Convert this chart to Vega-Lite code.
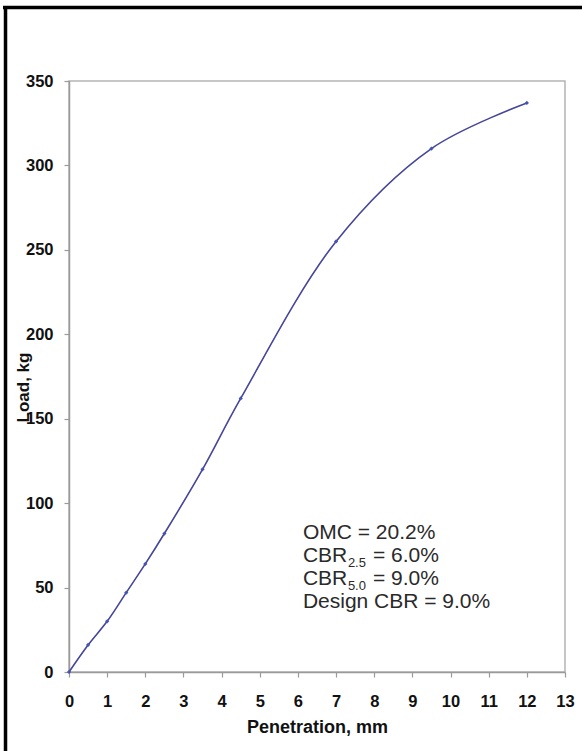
{
  "$schema": "https://vega.github.io/schema/vega-lite/v6.json",
  "width": 496,
  "height": 591,
  "autosize": {"type": "none"},
  "padding": {"left": 69, "top": 81, "right": 17, "bottom": 79},
  "background": "white",
  "config": {
    "font": "Liberation Sans",
    "view": {"stroke": "#b4b4b4", "strokeWidth": 1.5},
    "axis": {
      "grid": false,
      "domainColor": "#9a9a9a",
      "domainWidth": 1.5,
      "tickColor": "#9a9a9a",
      "tickWidth": 1.2,
      "tickSize": 5,
      "labelFont": "Liberation Sans",
      "labelFontWeight": "bold",
      "labelFontSize": 16.5,
      "labelColor": "#111111",
      "titleFont": "Liberation Sans",
      "titleFontWeight": "bold",
      "titleColor": "#111111"
    }
  },
  "datasets": {
    "load": [
      {"penetration": 0, "load": 0},
      {"penetration": 0.5, "load": 16},
      {"penetration": 1, "load": 30},
      {"penetration": 1.5, "load": 47},
      {"penetration": 2, "load": 64},
      {"penetration": 2.5, "load": 82},
      {"penetration": 3.5, "load": 120},
      {"penetration": 4.5, "load": 162},
      {"penetration": 7, "load": 255},
      {"penetration": 9.5, "load": 310},
      {"penetration": 12, "load": 337}
    ],
    "notes": [
      {"part": "main", "text": "OMC = 20.2%", "penetration": 6.13, "load": 82.3},
      {"part": "main", "text": "CBR", "penetration": 6.13, "load": 68.7},
      {"part": "sub", "text": "2.5", "penetration": 6.13, "load": 68.7},
      {"part": "rest", "text": "= 6.0%", "penetration": 6.13, "load": 68.7},
      {"part": "main", "text": "CBR", "penetration": 6.13, "load": 55.1},
      {"part": "sub", "text": "5.0", "penetration": 6.13, "load": 55.1},
      {"part": "rest", "text": "= 9.0%", "penetration": 6.13, "load": 55.1},
      {"part": "main", "text": "Design CBR = 9.0%", "penetration": 6.13, "load": 41.5}
    ],
    "frame": [
      {"side": "left", "penetration": -1.664, "pen2": -1.664, "load": 393.5, "load2": -47},
      {"side": "top", "penetration": -1.73, "pen2": 13.45, "load": 393.5, "load2": 393.5}
    ]
  },
  "encoding": {
    "x": {
      "field": "penetration", "type": "quantitative",
      "scale": {"domain": [0, 13], "nice": false, "zero": false},
      "axis": {
        "values": [0, 1, 2, 3, 4, 5, 6, 7, 8, 9, 10, 11, 12, 13],
        "labelOverlap": "greedy",
        "labelSeparation": -30,
        "labelBound": false,
        "title": "Penetration, mm",
        "titleFontSize": 18,
        "titleBaseline": "alphabetic",
        "titleY": 60,
        "titleX": 248,
        "labelPadding": 16,
        "labelFlush": false
      }
    },
    "y": {
      "field": "load", "type": "quantitative",
      "scale": {"domain": [0, 350], "nice": false},
      "axis": {
        "values": [0, 50, 100, 150, 200, 250, 300, 350],
        "labelOverlap": "greedy",
        "labelSeparation": -30,
        "title": "Load, kg",
        "titleFontSize": 17,
        "titleAngle": -90,
        "titleBaseline": "alphabetic",
        "titleAlign": "center",
        "titleX": -41,
        "titleY": 306,
        "labelPadding": 11,
        "labelFlush": false
      }
    }
  },
  "layer": [
    {
      "data": {"name": "load"},
      "mark": {"type": "line", "interpolate": "catmull-rom", "color": "#45459a", "strokeWidth": 1.6}
    },
    {
      "data": {"name": "load"},
      "mark": {"type": "point", "filled": true, "shape": "diamond", "size": 18, "color": "#4454b8", "opacity": 1}
    },
    {
      "data": {"name": "notes"},
      "transform": [{"filter": "datum.part === 'main'"}],
      "mark": {"type": "text", "align": "left", "baseline": "middle", "fontSize": 21, "color": "#2a2a2a", "font": "Liberation Sans"},
      "encoding": {"text": {"field": "text"}}
    },
    {
      "data": {"name": "notes"},
      "transform": [{"filter": "datum.part === 'sub'"}],
      "mark": {"type": "text", "align": "left", "baseline": "middle", "fontSize": 13, "dx": 45, "dy": 7, "color": "#2a2a2a", "font": "Liberation Sans"},
      "encoding": {"text": {"field": "text"}}
    },
    {
      "data": {"name": "notes"},
      "transform": [{"filter": "datum.part === 'rest'"}],
      "mark": {"type": "text", "align": "left", "baseline": "middle", "fontSize": 21, "dx": 70, "color": "#2a2a2a", "font": "Liberation Sans"},
      "encoding": {"text": {"field": "text"}}
    },
    {
      "data": {"name": "frame"},
      "mark": {"type": "rule", "color": "#000000", "strokeWidth": 3.5, "clip": false},
      "encoding": {
        "x2": {"field": "pen2"},
        "y2": {"field": "load2"}
      }
    }
  ]
}
